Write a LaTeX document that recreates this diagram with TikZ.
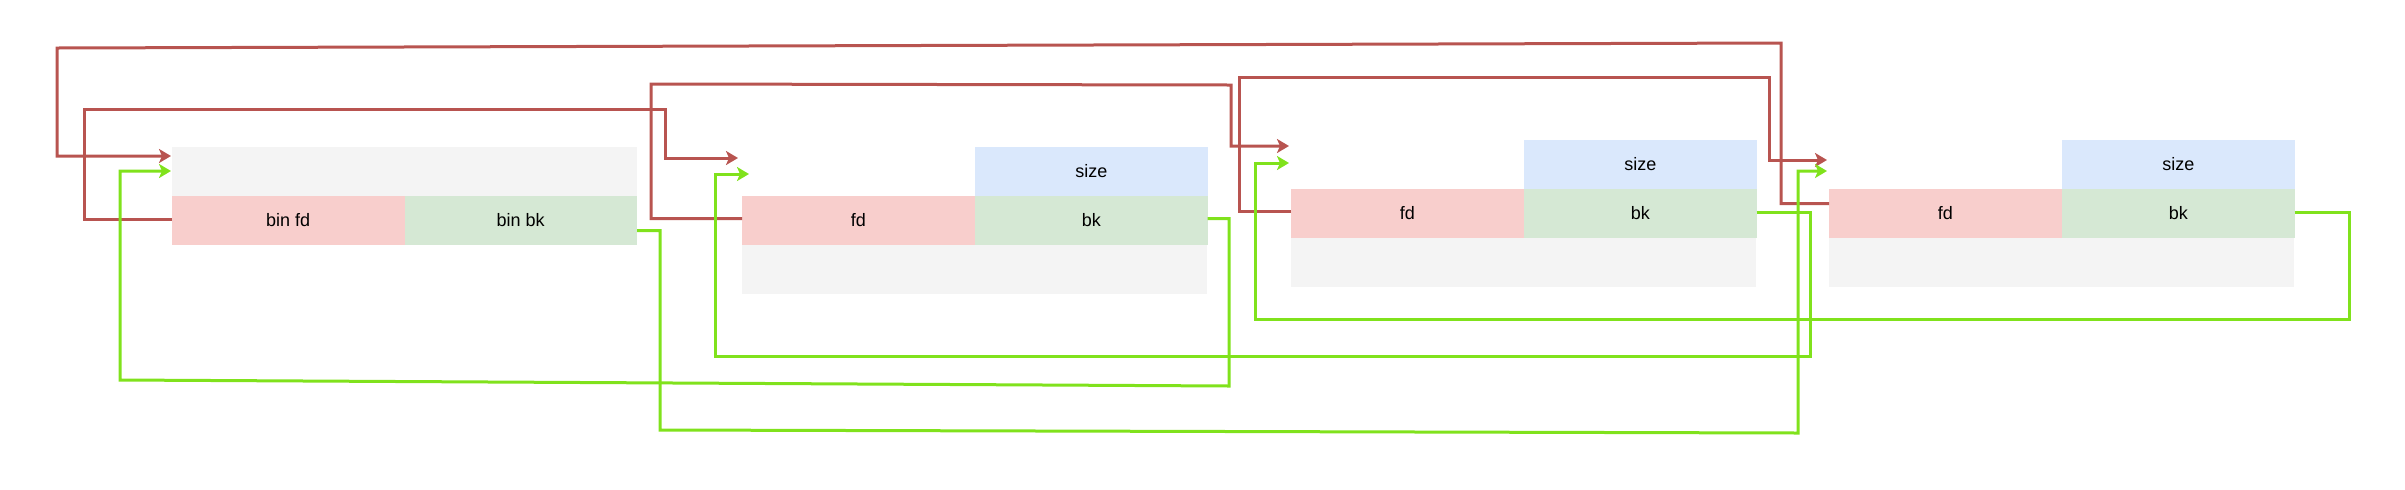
\documentclass[tikz,border=0pt]{standalone}
\usepackage{fontspec}
\setmainfont{Liberation Sans}
\usetikzlibrary{arrows.meta,calc}
\definecolor{cgray}{HTML}{F4F4F4}
\definecolor{cpink}{HTML}{F8CECC}
\definecolor{cgreen}{HTML}{D5E8D4}
\definecolor{cblue}{HTML}{DAE8FC}
\definecolor{lred}{HTML}{B85450}
\definecolor{lgreen}{HTML}{80E21C}
\begin{document}
\begin{tikzpicture}[x=0.5pt,y=-0.5pt,
  cell/.style={rectangle,inner sep=0pt,outer sep=0pt,anchor=north west,
    minimum width=116.25pt,minimum height=24.5pt,font=\fontsize{9}{11}\selectfont},
  widecell/.style={cell,minimum width=232.5pt},
  graycell/.style={fill=cgray},
  pinkcell/.style={fill=cpink},
  greencell/.style={fill=cgreen},
  bluecell/.style={fill=cblue},
  fdlink/.style={draw=lred,line width=1.5pt,line join=miter,-{Stealth[length=6pt,width=7pt,inset=1.5pt]}},
  bklink/.style={draw=lgreen,line width=1.5pt,line join=miter,-{Stealth[length=6pt,width=7pt,inset=1.5pt]}}
]
\useasboundingbox (0,0) rectangle (2405,489);

% chunk 1 (bin)
\node[widecell,graycell] (b1top) at (172,147) {};
\node[cell,pinkcell] (b1fd) at (172,196) {bin fd};
\node[cell,greencell] (b1bk) at (404.5,196) {bin bk};

% chunk 2
\node[cell,bluecell] (b2size) at (975,147) {size};
\node[cell,pinkcell] (b2fd) at (742,196) {fd};
\node[cell,greencell] (b2bk) at (975,196) {bk};
\node[widecell,graycell] (b2rest) at (742,245) {};

% chunk 3
\node[cell,bluecell] (b3size) at (1524,140) {size};
\node[cell,pinkcell] (b3fd) at (1291,189) {fd};
\node[cell,greencell] (b3bk) at (1524,189) {bk};
\node[widecell,graycell] (b3rest) at (1291,238) {};

% chunk 4
\node[cell,bluecell] (b4size) at (2062,140) {size};
\node[cell,pinkcell] (b4fd) at (1829,189) {fd};
\node[cell,greencell] (b4bk) at (2062,189) {bk};
\node[widecell,graycell] (b4rest) at (1829,238) {};

% arrow targets
\coordinate (t1r) at (171,156);
\coordinate (t1g) at (171,171);
\coordinate (t2r) at (738,158);
\coordinate (t2g) at (749,174);
\coordinate (t3r) at (1289,146);
\coordinate (t3g) at (1289,163);
\coordinate (t4r) at (1827,160);
\coordinate (t4g) at (1827,171);

% fd links (red)
\draw[fdlink] ($(b4fd.west)+(0,-10)$) -| (1781,43) -- (57,48) |- (t1r);
\draw[fdlink] ($(b1fd.west)+(0,-1)$) -| (84,109) -- (665,109) |- (t2r);
\draw[fdlink] ($(b2fd.west)+(0,-2)$) -| (651,84) -- (1231,85) |- (t3r);
\draw[fdlink] ($(b3fd.west)+(0,-2)$) -| (1239,77) -- (1769,77) |- (t4r);

% bk links (green)
\draw[bklink] ($(b1bk.east)+(0,10)$) -| (660,430) -- (1798,433) |- (t4g);
\draw[bklink] ($(b3bk.east)+(0,-1)$) -| (1810,356) -- (715,356) |- (t2g);
\draw[bklink] ($(b2bk.east)+(0,-2)$) -| (1229,386) -- (120,380) |- (t1g);
\draw[bklink] ($(b4bk.east)+(0,-1)$) -| (2349,319) -- (1255,319) |- (t3g);
\end{tikzpicture}
\end{document}
